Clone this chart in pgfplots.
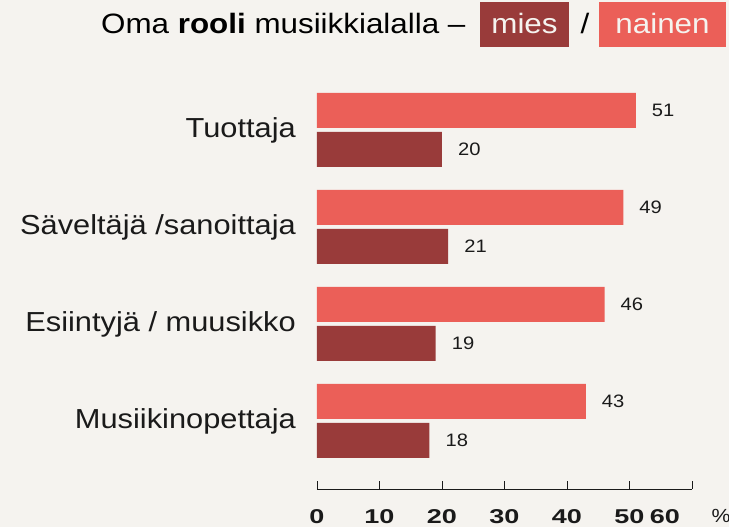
\documentclass[border=0pt]{standalone}
\usepackage{fontspec}
\setmainfont{Liberation Sans}[FakeStretch=1.12]
\newfontfamily\tickfont{Liberation Sans}[FakeStretch=1.35]
\usepackage{pgfplots}
\pgfplotsset{compat=1.18}
\definecolor{bg}{HTML}{F5F3EF}
\definecolor{nainen}{HTML}{EB5F58}
\definecolor{mies}{HTML}{993B3A}
\definecolor{ink}{HTML}{1A1A1A}
\begin{document}
\begin{tikzpicture}
\fill[bg, use as bounding box] (0,0) rectangle (729pt,527pt);
\begin{axis}[
  at={(317pt,38pt)}, anchor=south west,
  scale only axis, width=375pt, height=417.2pt,
  xmin=0, xmax=60, ymin=-0.701, ymax=3.6,
  /pgf/number format/assume math mode=true,
  axis x line*=bottom, axis y line*=left,
  x axis line style={-, draw=ink, line width=0.9pt},
  y axis line style={draw=none},
  xtick={0,10,20,30,40,50,60},
  xticklabels={\mbox{0},\mbox{10},\mbox{20},\mbox{30},\mbox{40},\mbox{50},\mbox{\makebox[0pt][r]{60\hspace{12pt}}}},
  xtick align=inside, major tick length=8pt,
  xtick style={draw=ink, line width=0.9pt},
  xticklabel style={font=\tickfont\bfseries\fontsize{20}{21}\selectfont, text=ink, anchor=north, inner sep=0pt, yshift=-20pt},
  ytick={0,1,2,3},
  yticklabels={Musiikinopettaja, Esiintyjä / muusikko, Säveltäjä /sanoittaja, Tuottaja},
  ytick style={draw=none},
  yticklabel style={font=\fontsize{27.5}{29}\selectfont, text=ink, anchor=east, inner sep=0pt, xshift=-13pt},
  xbar, bar width=35pt,
  nodes near coords,
  every node near coord/.append style={font=\fontsize{18}{20}\selectfont, text=ink, anchor=west, inner sep=0pt, xshift=16pt},
  clip=false,
]
\addplot[fill=nainen, draw=none, bar shift=19.5pt] coordinates {(43,0) (46,1) (49,2) (51,3)};
\addplot[fill=mies, draw=none, bar shift=-19.5pt] coordinates {(18,0) (19,1) (21,2) (20,3)};
\end{axis}
\node[anchor=base, inner sep=0pt, font=\fontsize{19}{20}\selectfont, text=ink] at (721pt,4pt) {\%};
\node[anchor=base west, inner sep=0pt, font=\fontsize{28}{30}\selectfont, text=black] at (101pt,493.5pt) {Oma \textbf{rooli} musiikkialalla –};
\fill[mies] (480pt,480pt) rectangle (569pt,525pt);
\node[anchor=base, inner sep=0pt, font=\fontsize{28}{30}\selectfont, text=bg] at (524.5pt,493.5pt) {mies};
\node[anchor=base, inner sep=0pt, font=\fontsize{28}{30}\selectfont, text=black] at (585pt,493.5pt) {/};
\fill[nainen] (599pt,480pt) rectangle (726pt,525pt);
\node[anchor=base, inner sep=0pt, font=\fontsize{28}{30}\selectfont, text=bg] at (662.5pt,493.5pt) {nainen};
\end{tikzpicture}
\end{document}
